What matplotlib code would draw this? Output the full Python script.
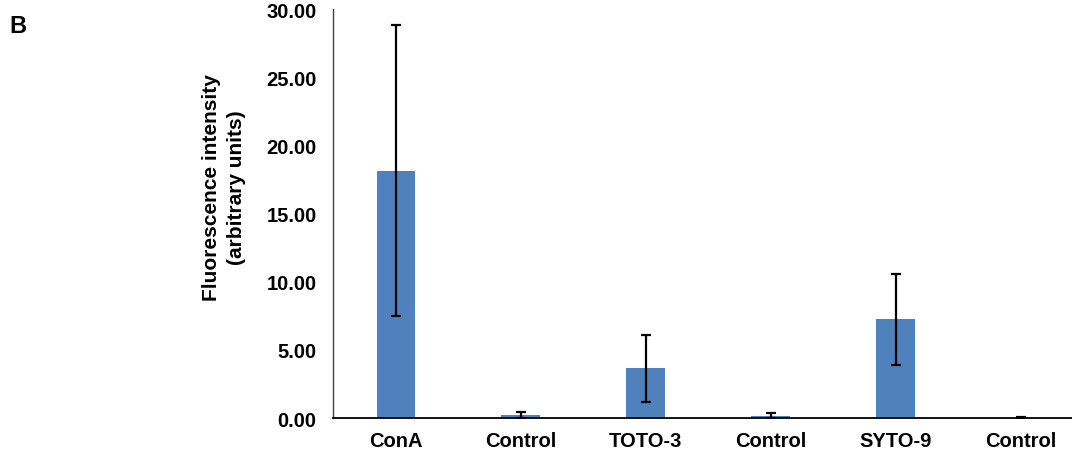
import numpy as np
import matplotlib.pyplot as plt

plt.rcParams['font.family'] = ['Liberation Sans', 'DejaVu Sans']

# Data
categories = ['ConA', 'Control', 'TOTO-3', 'Control', 'SYTO-9', 'Control']
means = [18.15, 0.22, 3.65, 0.17, 7.25, 0.04]
errors = [10.7, 0.22, 2.45, 0.17, 3.35, 0.03]
yticks = [0, 5, 10, 15, 20, 25, 30]

fig = plt.figure(figsize=(10.72, 4.56), dpi=100)
ax = fig.add_axes([0.311, 0.081, 0.689, 0.897])

x = np.arange(len(categories))
ax.bar(x, means, width=0.31, color='#4F81BD', yerr=errors,
       error_kw=dict(ecolor='black', elinewidth=1.6, capsize=3.5, capthick=1.6))

ax.set_xlim(-0.5, 5.41)
ax.set_ylim(0, 30)
ax.set_yticks(yticks)
ax.set_yticklabels([f'{v:.2f}' for v in yticks], fontsize=14.5, fontweight='bold')
ax.set_xticks(x)
ax.set_xticklabels(categories, fontsize=14.5, fontweight='bold')
ax.tick_params(axis='x', length=0, pad=9)
ax.tick_params(axis='y', length=0, pad=12)

for s in ['top', 'right']:
    ax.spines[s].set_visible(False)
ax.spines['left'].set_linewidth(1.0)
ax.spines['left'].set_color('#404040')
ax.spines['bottom'].set_linewidth(1.3)
ax.spines['bottom'].set_color('black')

# y label sits a bit above the axis centre, as in the original
fig.text(0.209, 0.588, 'Fluorescence intensity\n(arbitrary units)', fontsize=15,
         fontweight='bold', rotation=90, ha='center', va='center',
         linespacing=1.35, multialignment='center')

fig.text(0.009, 0.928, 'B', fontsize=17, fontweight='bold')

fig.savefig('out.png', dpi=100)
